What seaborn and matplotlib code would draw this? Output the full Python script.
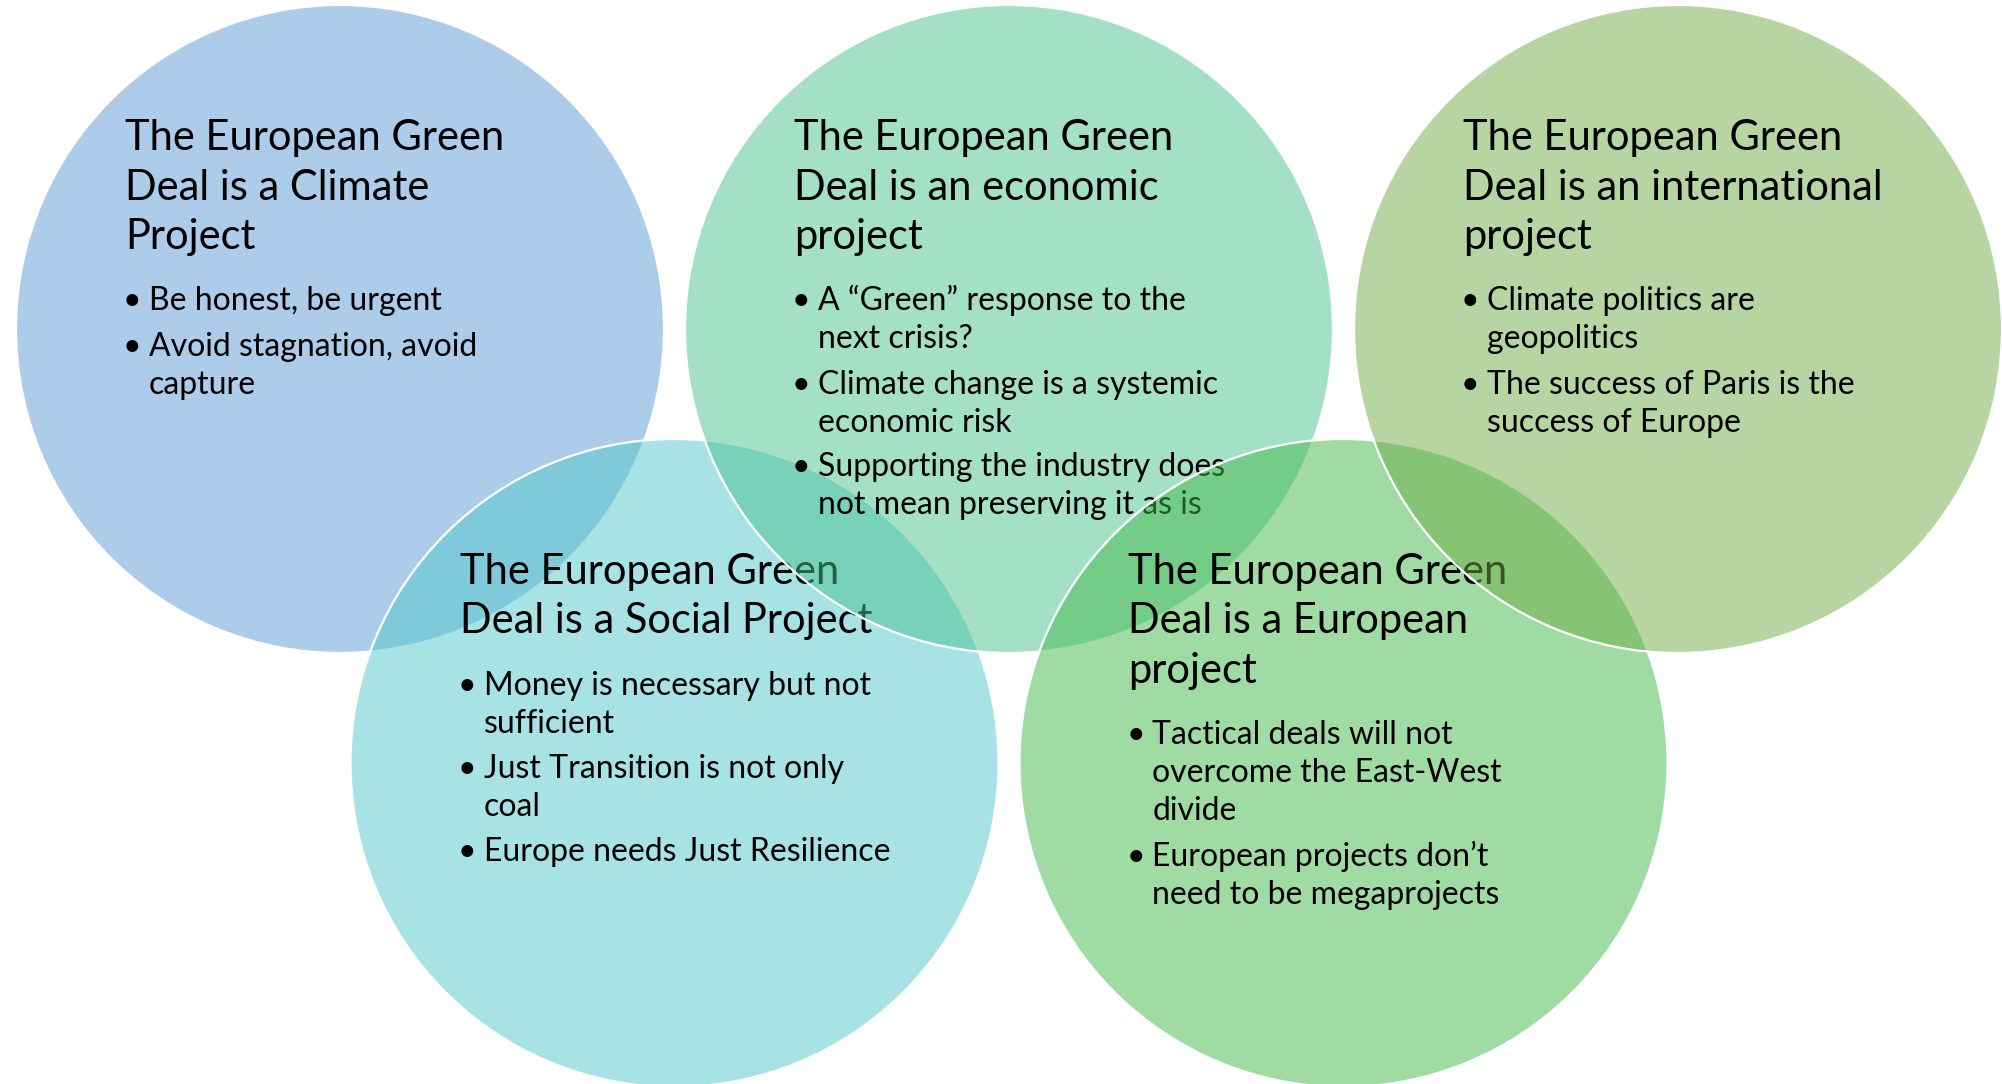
import matplotlib
matplotlib.use('Agg')
import matplotlib.pyplot as plt
from matplotlib.patches import Circle
from matplotlib.colors import to_rgba
import seaborn as sns

# circles in drawing order: top, bottom, top, bottom, top
titles = [
    ['The European Green', 'Deal is a Climate', 'Project'],
    ['The European Green', 'Deal is a Social Project'],
    ['The European Green', 'Deal is an economic', 'project'],
    ['The European Green', 'Deal is a European', 'project'],
    ['The European Green', 'Deal is an international', 'project'],
]
bullets = [
    [['Be honest, be urgent'],
     ['Avoid stagnation, avoid', 'capture']],
    [['Money is necessary but not', 'sufficient'],
     ['Just Transition is not only', 'coal'],
     ['Europe needs Just Resilience']],
    [['A \u201cGreen\u201d response to the', 'next crisis?'],
     ['Climate change is a systemic', 'economic risk'],
     ['Supporting the industry does', 'not mean preserving it as is']],
    [['Tactical deals will not', 'overcome the East-West', 'divide'],
     ['European projects don\u2019t', 'need to be megaprojects']],
    [['Climate politics are', 'geopolitics'],
     ['The success of Paris is the', 'success of Europe']],
]
colors = ['#5B9BD5', '#51C9CD', '#4BC38F', '#43B94B', '#70AD47']

sns.set_theme(style='white')
plt.rcParams['font.family'] = ['Lato', 'DejaVu Sans']

W, H = 2002, 1084
fig = plt.figure(figsize=(W / 100, H / 100), dpi=100)
ax = fig.add_axes([0, 0, 1, 1])
ax.set_xlim(0, W)
ax.set_ylim(H, 0)
ax.set_axis_off()

R = 324
title_fs = 30
bullet_fs = 23
for k, (tl, bl, col) in enumerate(zip(titles, bullets, colors)):
    cx = 340 + 334.5 * k
    cy = 329 if k % 2 == 0 else 763
    ax.add_patch(Circle((cx, cy), R, facecolor=to_rgba(col, 0.5),
                        edgecolor='white', lw=1.6, zorder=2 * k + 1))
    x0 = cx - 215
    y = cy - 179
    for i, line in enumerate(tl):
        if i > 0:
            y += 49.5
        ax.text(x0, y, line, fontsize=title_fs, color='black', va='baseline',
                ha='left', zorder=2 * k + 2)
    y += 61.5
    for j, item in enumerate(bl):
        if j > 0:
            y += 45
        ax.text(x0 + 7, y, '\u2022', fontsize=bullet_fs, color='black',
                va='baseline', ha='center', zorder=2 * k + 2)
        for i, line in enumerate(item):
            if i > 0:
                y += 38
            ax.text(x0 + 24, y, line, fontsize=bullet_fs, color='black',
                    va='baseline', ha='left', zorder=2 * k + 2)

fig.savefig('out.png', dpi=100, facecolor='white')
